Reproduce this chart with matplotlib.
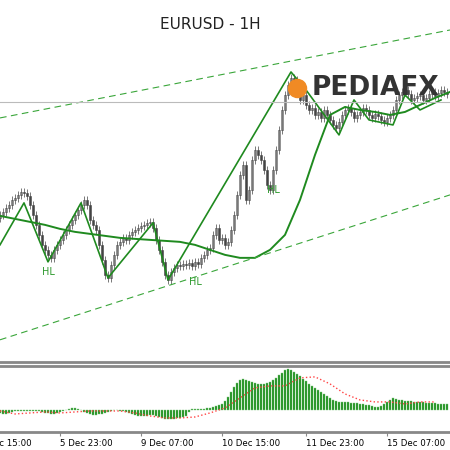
import numpy as np
import matplotlib
matplotlib.use('Agg')
import matplotlib.pyplot as plt

# close prices (chart units), one per 1H bar
closes = [235, 238, 242, 245, 250, 252, 255, 258, 257, 254,
          245, 235, 225, 215, 205, 200, 195, 192, 200, 205,
          210, 215, 220, 225, 230, 235, 240, 245, 250, 245,
          230, 225, 220, 205, 190, 175, 172, 185, 195, 205,
          208, 212, 210, 215, 218, 220, 222, 224, 225, 227,
          228, 222, 210, 200, 188, 175, 170, 178, 182, 185,
          184, 186, 185, 187, 184, 188, 186, 192, 195, 200,
          202, 215, 222, 210, 212, 205, 208, 220, 235, 255,
          275, 285, 250, 260, 290, 300, 295, 290, 280, 265,
          260, 280, 300, 320, 340, 355, 365, 372, 370, 360,
          350, 355, 345, 340, 342, 335, 338, 332, 340, 335,
          330, 325, 322, 328, 335, 340, 342, 338, 332, 335,
          338, 342, 340, 335, 332, 336, 334, 330, 328, 332,
          335, 340, 350, 355, 358, 360, 356, 350, 352, 354,
          355, 350, 352, 356, 358, 354, 357, 360, 358, 356]

# moving average, every 5 bars
ma_bars = list(range(0, 151, 5))
ma_vals = [234, 231, 228, 225, 221, 218, 216, 214, 212, 211,
           210, 209, 208, 205, 200, 195, 192, 192, 200, 215,
           250, 295, 335, 343, 340, 338, 335, 338, 345, 352, 358]

# zigzag swing points (bar, value)
zz_bars = [0, 8, 16, 27, 36, 51, 56, 97, 102, 113, 118, 123, 131, 135, 140, 147]
zz_vals = [205, 247, 188, 247, 172, 227, 170, 378, 360, 315, 350, 330, 325, 355, 340, 350]

# channel lines (bar, value)
upper_chan = ([0, 150], [332, 420])
lower_chan = ([0, 150], [110, 255])
last_price = 348

hl_labels = [(16, 178), (65, 168), (91, 260)]

# oscillator histogram and signal
hist = [-3, -4, -4, -3, -2, -1, -1, -1, -1, -1,
        -1, -1, -1, -1, -2, -3, -3, -4, -4, -3,
        -2, -1, 0, 1, 2, 2, 1, 0, -2, -3,
        -4, -5, -5, -4, -4, -3, -2, -1, 0, 0,
        -1, -1, -2, -3, -4, -5, -6, -6, -6, -6,
        -5, -5, -6, -7, -8, -9, -9, -9, -9, -8,
        -8, -7, -6, -2, 1, 1, 1, 1, 1, 2,
        2, 3, 4, 5, 6, 9, 13, 18, 23, 27,
        30, 31, 30, 29, 28, 27, 26, 26, 26, 27,
        28, 30, 32, 35, 37, 40, 41, 40, 38, 36,
        34, 31, 29, 26, 24, 22, 20, 18, 16, 14,
        12, 10, 9, 8, 8, 8, 8, 7, 7, 7,
        6, 6, 5, 5, 4, 3, 3, 4, 6, 8,
        10, 12, 11, 10, 10, 9, 9, 9, 8, 8,
        8, 8, 7, 7, 7, 7, 6, 6, 6, 6]
sig_bars = list(range(0, 150, 5))
sig_vals = [-1, -4, -3, -2, -3, -2, -1, -1, -1, -3, -6, -8, -8, -7, -3,
            2, 12, 22, 24, 24, 32, 33, 26, 16, 10, 8, 8, 6, 8, 8]

tick_bars = [-7, 20, 47, 74, 102, 129]
tick_labels = ['4 Dec 15:00', '5 Dec 23:00', '9 Dec 07:00', '10 Dec 15:00',
               '11 Dec 23:00', '15 Dec 07:00']

fig = plt.figure(figsize=(4.5, 4.5), dpi=100)
ax = fig.add_axes([0, 0.196, 1, 0.804])
ax2 = fig.add_axes([0, 0.04, 1, 0.147])

green = '#2e9a2e'
candle = '#444444'
n = len(closes)
opens = [closes[0] - 3] + closes[:-1]
for i in range(n):
    o, c = opens[i], closes[i]
    lo, hi = min(o, c), max(o, c)
    ax.vlines(i, lo - 4, hi + 4, color=candle, lw=0.5)
    ax.bar(i, max(hi - lo, 0.8), bottom=lo, width=0.55,
           color='#f2f2f2' if c >= o else candle, edgecolor=candle, lw=0.4)

ax.plot(ma_bars, ma_vals, color='#1f8a1f', lw=1.4)
ax.plot(zz_bars, zz_vals, color='#1f8a1f', lw=1.2)
ax.plot(*upper_chan, color='#3aa63a', lw=0.8, ls=(0, (6, 4)))
ax.plot(*lower_chan, color='#3aa63a', lw=0.8, ls=(0, (6, 4)))
ax.axhline(last_price, color='#bbbbbb', lw=0.8)
for bx, by in hl_labels:
    ax.text(bx, by, 'HL', color=green, fontsize=7, ha='center', va='center')

ax.text(70, 425, 'EURUSD - 1H', fontsize=11, ha='center', va='center', color='#222222')
ax.plot(99, 362, marker='o', ms=13, color='#f08a24')
ax.text(104, 362, 'PEDIAFX', fontsize=19, fontweight='bold', color='#333333',
        va='center', ha='left')

ax.set_xlim(0, 150)
ax.set_ylim(88, 450)
ax.set_xticks([])
ax.set_yticks([])
for s in ['top', 'left', 'right']:
    ax.spines[s].set_visible(False)
ax.spines['bottom'].set_color('#888888')
ax.spines['bottom'].set_linewidth(2)

ax2.bar(range(len(hist)), hist, width=0.8, color='#1a8c1a', edgecolor='#7fc87f', lw=0.3)
ax2.plot(sig_bars, sig_vals, color='#ff4444', lw=1.0, ls=':')
ax2.set_yticks([])
ax2.set_xticks(tick_bars[1:])
ax2.set_xticklabels(tick_labels[1:], fontsize=6.2)
for lab in ax2.get_xticklabels():
    lab.set_horizontalalignment('left')
ax2.set_xlim(0, 150)
ax2.set_ylim(-22, 44)
# first label starts left of the visible range
ax2.annotate(tick_labels[0], xy=(tick_bars[0], 0), xycoords=('data', 'axes fraction'),
             xytext=(0, -5), textcoords='offset points', fontsize=6.2,
             ha='left', va='top', annotation_clip=False)
ax2.tick_params(axis='x', length=3, pad=2, color='#888888')
for s in ['left', 'right']:
    ax2.spines[s].set_visible(False)
for s in ['top', 'bottom']:
    ax2.spines[s].set_color('#888888')
    ax2.spines[s].set_linewidth(2)

fig.savefig('out.png', dpi=100)
